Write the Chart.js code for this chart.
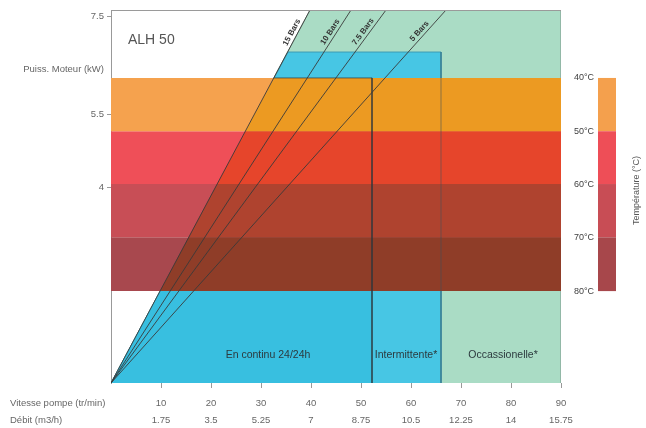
<!DOCTYPE html>
<html>
<head>
<meta charset="utf-8">
<script src="https://cdn.jsdelivr.net/npm/chart.js@4.4.1/dist/chart.umd.min.js"></script>
<style>
  html, body { margin: 0; padding: 0; background: #fff; }
</style>
</head>
<body>
<canvas id="myChart" width="646" height="428"></canvas>
<script>

// axis values
let speed = [10, 20, 30, 40, 50, 60, 70, 80, 90]
let flow = ['1.75', '3.5', '5.25', '7', '8.75', '10.5', '12.25', '14', '15.75']
let powerTicks = [4, 5.5, 6.42, 7.5]
let powerLabels = ['4', '5.5', 'Puiss. Moteur (kW)', '7.5']
let powerMax = 7.63

// temperature bands (kW at the top edge of each band) and where the 15 Bars line crosses them
let temps = ['40°C', '50°C', '60°C', '70°C', '80°C']
let tempEdges = [6.24, 5.15, 4.07, 2.98, 1.88]
let edgeOn15 = [32.6, 26.9, 21.2, 15.5, 9.8]

// pressure lines: speed reached at the top of the chart
let bars = ['15 Bars', '10 Bars', '7.5 Bars', '5 Bars']
let barsTop = [39.8, 48, 55, 67]

// zones [speed, kW]
let zones = ['En continu 24/24h', 'Intermittente*', 'Occassionelle*']
let occasionalZone = [[0, 0], [39.8, 7.63], [90, 7.63], [90, 0]]
let intermittentZone = [[0, 0], [35.4, 6.77], [66, 6.77], [66, 0]]
let continuousZone = [[0, 0], [32.6, 6.24], [52.2, 6.24], [52.2, 0]]

// styles
let bandLight = ['#f5a24e', '#ef4f58', '#c84e56', '#a8484e']
let bandDark = ['#ec9a22', '#e6452b', '#af432f', '#8f3d28']
let legendColors = ['#f4a04d', '#ee4e57', '#c84d55', '#a7474b']
let zoneLabelX = [31.4, 59, 78.4]
let zoneLabelY = 0.57
let barLabelAt = 7.12

Chart.defaults.font.family = '"Liberation Sans", Arial, sans-serif'

let pts = (arr) => arr.map(p => ({ x: p[0], y: p[1] }))
let right = speed[speed.length - 1]

let datasets = []

datasets.push({ data: pts(occasionalZone), fill: 'origin', backgroundColor: '#aadcc5', borderColor: '#8fb3a2', borderWidth: 1, order: 30 })
datasets.push({ data: pts(intermittentZone), fill: 'origin', backgroundColor: '#47c6e4', borderColor: '#3c9cb5', borderWidth: 1, order: 29 })
datasets.push({ data: pts(continuousZone), fill: 'origin', backgroundColor: '#38bfe0', borderColor: 'transparent', borderWidth: 0, order: 28 })

for (let i = 0; i < 4; i++) {
  datasets.push({
    data: [{ x: 0, y: tempEdges[i] }, { x: right, y: tempEdges[i] }],
    fill: { value: tempEdges[i + 1] },
    backgroundColor: bandLight[i], borderColor: 'transparent', borderWidth: 0, order: 20
  })
  datasets.push({
    data: [{ x: edgeOn15[i + 1], y: tempEdges[i + 1] }, { x: edgeOn15[i], y: tempEdges[i] }, { x: right, y: tempEdges[i] }],
    fill: { value: tempEdges[i + 1] },
    backgroundColor: bandDark[i], borderColor: 'transparent', borderWidth: 0, order: 19
  })
}

// zone outlines seen through the bands
datasets.push({ data: pts(continuousZone.slice(1)), fill: false, borderColor: 'rgba(45,55,60,0.7)', borderWidth: 1, order: 5 })
datasets.push({ data: pts(intermittentZone.slice(2)), fill: false, borderColor: 'rgba(60,80,90,0.2)', borderWidth: 1, order: 5 })

// pressure lines
bars.forEach((b, i) => {
  datasets.push({ data: [{ x: 0, y: 0 }, { x: barsTop[i], y: powerMax }], fill: false, borderColor: '#3a3a3a', borderWidth: 0.9, order: 1 })
})

datasets.forEach(d => {
  d.showLine = true
  d.pointRadius = 0
  d.tension = 0
})

let decor = {
  id: 'decor',
  afterDatasetsDraw(chart) {
    let { ctx, chartArea: a, scales: { x, y } } = chart
    ctx.save()

    // top frame
    ctx.strokeStyle = '#9a9a9a'
    ctx.lineWidth = 1
    ctx.beginPath()
    ctx.moveTo(a.left, a.top + 0.5)
    ctx.lineTo(a.right, a.top + 0.5)
    ctx.stroke()

    // title
    ctx.fillStyle = '#555'
    ctx.font = '14px "Liberation Sans", Arial, sans-serif'
    ctx.textAlign = 'left'
    ctx.textBaseline = 'middle'
    ctx.fillText('ALH 50', a.left + 17, a.top + 30)

    // pressure labels
    ctx.font = 'bold 8px "Liberation Sans", Arial, sans-serif'
    ctx.fillStyle = '#333'
    ctx.textAlign = 'center'
    ctx.textBaseline = 'bottom'
    bars.forEach((name, i) => {
      let x0 = x.getPixelForValue(0), y0 = y.getPixelForValue(0)
      let x1 = x.getPixelForValue(barsTop[i]), y1 = y.getPixelForValue(powerMax)
      let ang = Math.atan2(y1 - y0, x1 - x0)
      let py = y.getPixelForValue(barLabelAt)
      let px = x0 + (py - y0) / (y1 - y0) * (x1 - x0)
      ctx.save()
      ctx.translate(px, py)
      ctx.rotate(ang)
      ctx.fillText(name, 0, -1.5)
      ctx.restore()
    })

    // zone labels
    ctx.font = '10.5px "Liberation Sans", Arial, sans-serif'
    ctx.fillStyle = '#2c3a3e'
    ctx.textBaseline = 'middle'
    zones.forEach((z, i) => {
      ctx.fillText(z, x.getPixelForValue(zoneLabelX[i]), y.getPixelForValue(zoneLabelY))
    })

    // x row titles
    ctx.font = '9.5px "Liberation Sans", Arial, sans-serif'
    ctx.fillStyle = '#666'
    ctx.textAlign = 'left'
    ctx.fillText('Vitesse pompe (tr/min)', 10, x.top + 20)
    ctx.fillText('Débit (m3/h)', 10, x.top + 37)

    // temperature legend
    let bx = a.right + 37, bw = 18
    for (let i = 0; i < 4; i++) {
      let t = y.getPixelForValue(tempEdges[i]), b = y.getPixelForValue(tempEdges[i + 1])
      ctx.fillStyle = legendColors[i]
      ctx.fillRect(bx, t, bw, b - t)
    }
    ctx.font = '9px "Liberation Sans", Arial, sans-serif'
    ctx.fillStyle = '#3e3e3e'
    ctx.textAlign = 'right'
    temps.forEach((t, i) => {
      ctx.fillText(t, bx - 4, y.getPixelForValue(tempEdges[i]))
    })
    let mid = (y.getPixelForValue(tempEdges[0]) + y.getPixelForValue(tempEdges[4])) / 2 + 6
    ctx.save()
    ctx.translate(a.right + 76, mid)
    ctx.rotate(-Math.PI / 2)
    ctx.textAlign = 'center'
    ctx.fillStyle = '#555'
    ctx.fillText('Température (°C)', 0, 0)
    ctx.restore()

    ctx.restore()
  }
}

const ctx = document.getElementById('myChart')

const chart = new Chart(ctx, {
  type: 'scatter',
  data: { datasets: datasets },
  options: {
    responsive: false,
    animation: false,
    events: [],
    layout: { padding: { top: 10, right: 85, left: 0, bottom: 0 } },
    plugins: { legend: { display: false }, tooltip: { enabled: false } },
    scales: {
      x: {
        type: 'linear',
        min: 0,
        max: right,
        afterFit: (s) => { s.height = 45 },
        afterBuildTicks: (s) => { s.ticks = [0].concat(speed).map(v => ({ value: v })) },
        ticks: {
          padding: 6.5,
          maxRotation: 0,
          autoSkip: false,
          color: '#666',
          font: { size: 9.5, lineHeight: 1.8 },
          callback: (v) => {
            let i = speed.indexOf(v)
            return i < 0 ? '' : [String(v), flow[i]]
          }
        },
        grid: {
          drawOnChartArea: false,
          tickLength: 5,
          color: (c) => c.tick && c.tick.value === 0 ? 'transparent' : '#999'
        },
        border: { display: false }
      },
      y: {
        type: 'linear',
        min: 0,
        max: powerMax,
        afterFit: (s) => { s.width = 111 },
        afterBuildTicks: (s) => { s.ticks = powerTicks.map(v => ({ value: v })) },
        ticks: {
          padding: 3,
          color: '#666',
          font: { size: 9.5 },
          callback: (v) => powerLabels[powerTicks.indexOf(v)]
        },
        grid: {
          drawOnChartArea: false,
          tickLength: 4,
          color: (c) => c.tick && c.tick.value === 6.42 ? 'transparent' : '#999'
        },
        border: { display: true, color: '#999', width: 1 }
      }
    }
  },
  plugins: [decor]
})

</script>
</body>
</html>
